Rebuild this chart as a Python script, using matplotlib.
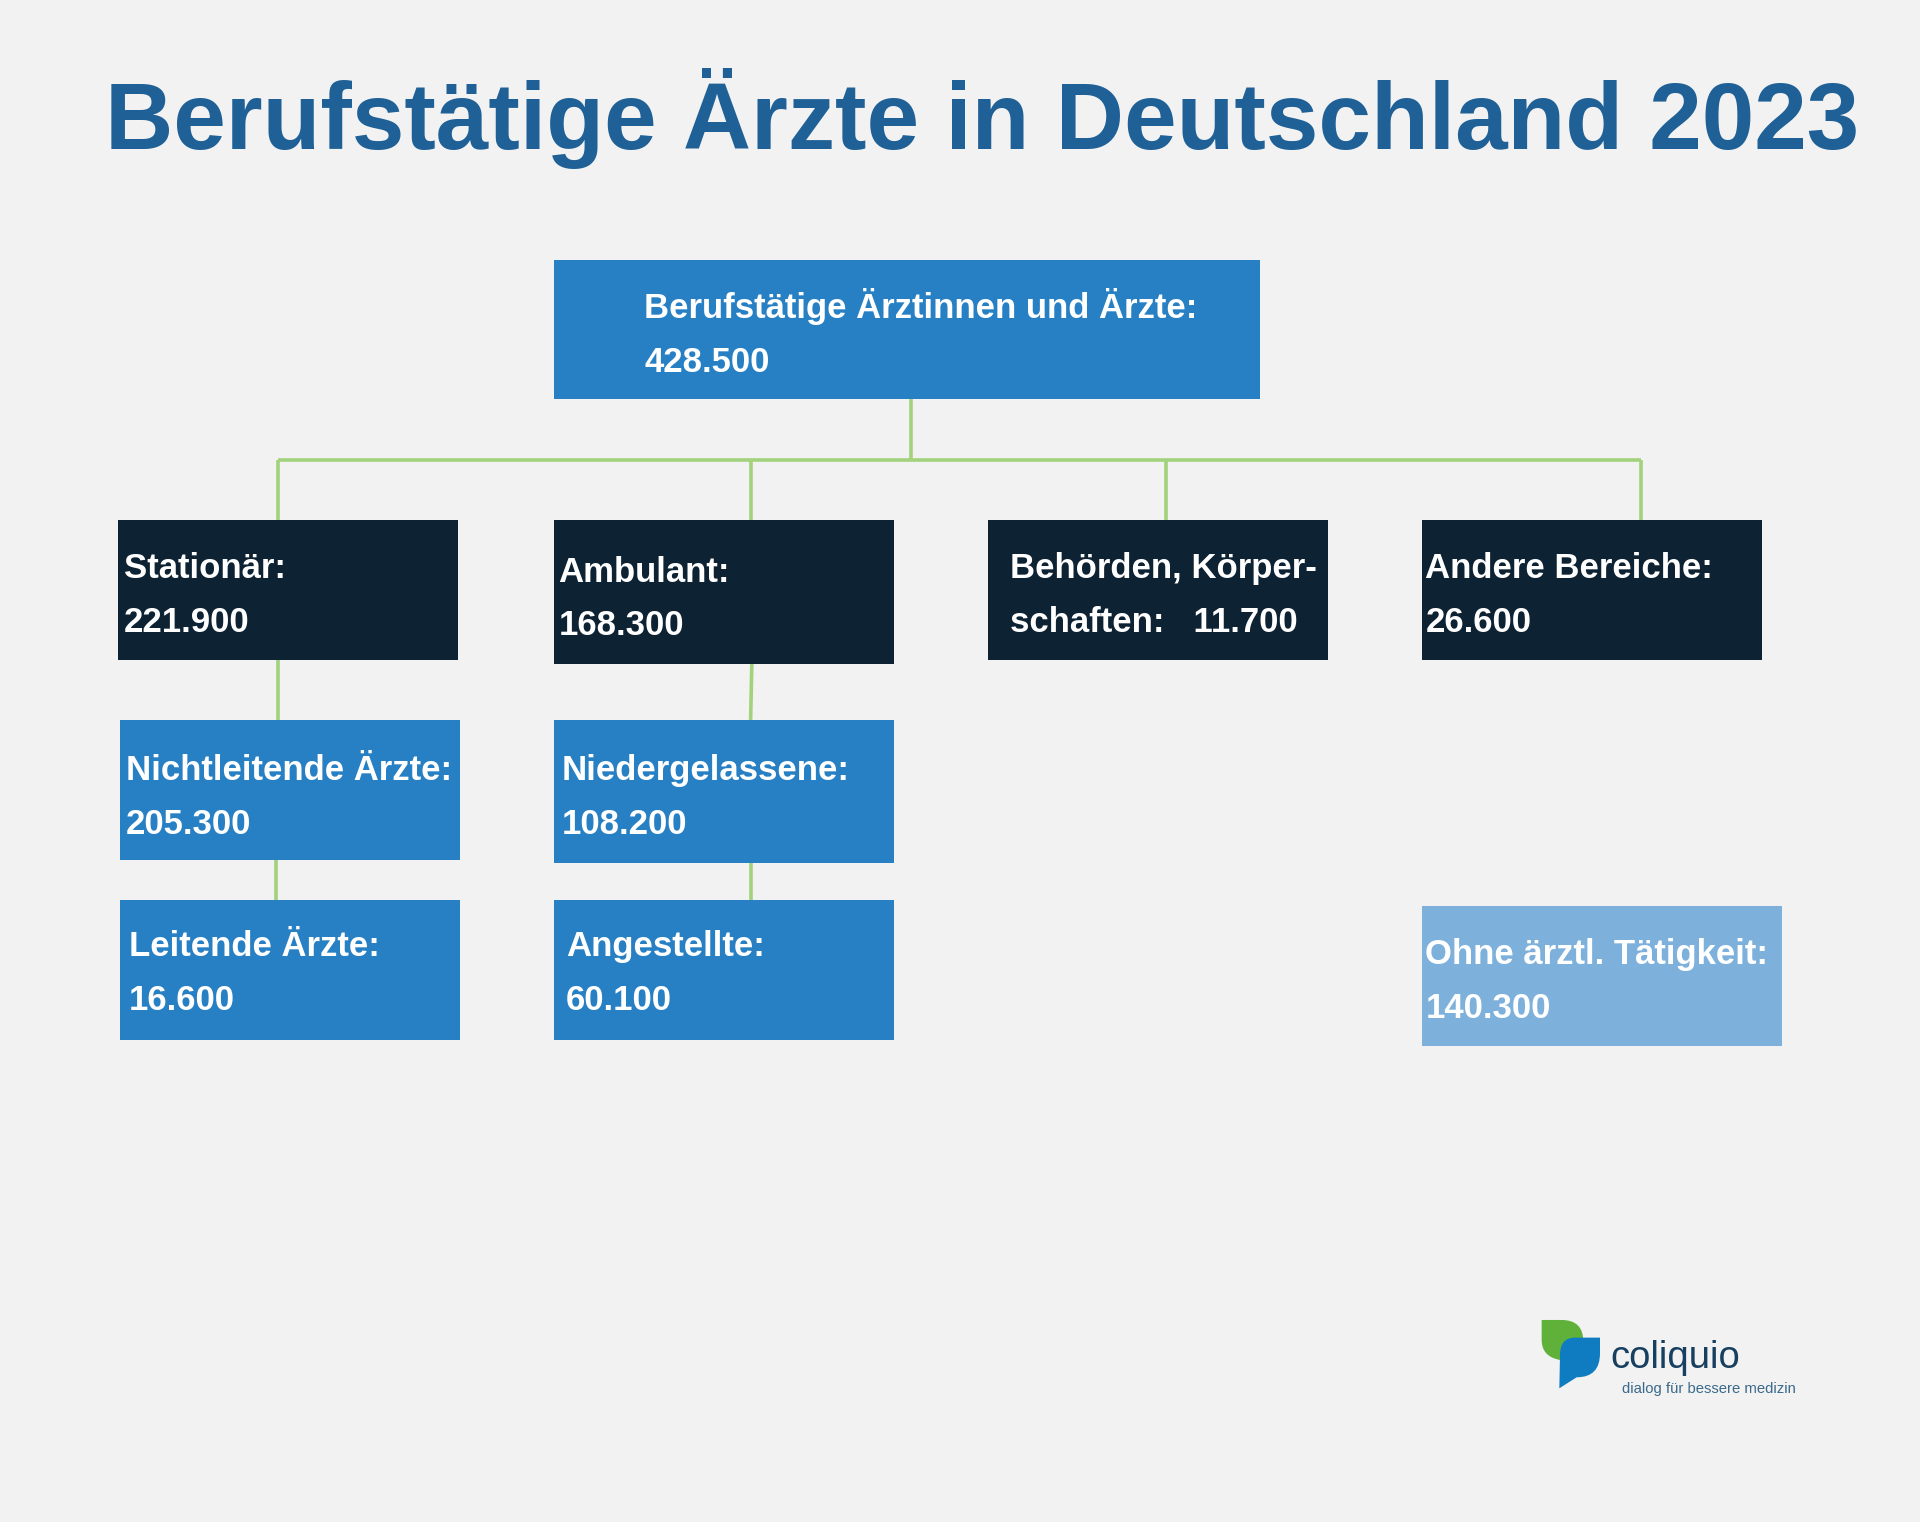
import matplotlib
matplotlib.use("Agg")
import matplotlib.pyplot as plt
from matplotlib.patches import Rectangle, PathPatch
from matplotlib.path import Path

W, H = 1920, 1522
S = 1920 / 1568

TITLE = "Berufstätige Ärzte in Deutschland 2023"
box_labels = ["Berufstätige Ärztinnen und Ärzte:\n428.500", "Stationär:\n221.900", "Ambulant:\n168.300",
              "Behörden, Körper-\nschaften:   11.700", "Andere Bereiche:\n26.600",
              "Nichtleitende Ärzte:\n205.300", "Niedergelassene:\n108.200",
              "Leitende Ärzte:\n16.600", "Angestellte:\n60.100", "Ohne ärztl. Tätigkeit:\n140.300"]
BLUE, DARK, LIGHT = "#2780c4", "#0d2233", "#7db1dc"
box_colors = [BLUE, DARK, DARK, DARK, DARK, BLUE, BLUE, BLUE, BLUE, LIGHT]
# x0, y0, x1, y1, text x, baseline y of first line (reference px at 1568 wide)
box_geom = [(452.5, 212, 1029, 326, 526, 260), (96, 425, 374, 539, 101, 472), (452.5, 425, 730, 542, 456, 475),
            (807, 425, 1084.5, 539, 825, 472), (1161, 425, 1439, 539, 1164, 472), (98, 588, 376, 702, 103, 637),
            (452.5, 588, 730, 705, 459, 637), (98, 735, 376, 849, 105, 781), (452.5, 735, 730, 849, 462, 781),
            (1161, 740, 1455, 854, 1164, 787)]
connectors = [((744, 326), (744, 376)), ((227, 376), (1340, 376)), ((227, 376), (227, 425)),
              ((613, 376), (613, 425)), ((952, 376), (952, 425)), ((1340, 376), (1340, 425)),
              ((227, 539), (227, 588)), ((614, 542), (613, 588)), ((225, 702), (225, 735)),
              ((613, 705), (613, 735))]

plt.rcParams["font.family"] = ["Liberation Sans", "DejaVu Sans"]
fig = plt.figure(figsize=(W / 100, H / 100), dpi=100, facecolor="#f2f2f2")
ax = fig.add_axes([0, 0, 1, 1])
ax.set_xlim(0, 1568)
ax.set_ylim(1243, 0)
ax.axis("off")

ax.text(802, 97, TITLE, ha="center", va="center", fontsize=68, fontweight="bold", color="#1f6096")
for a, b in connectors:
    ax.plot([a[0], b[0]], [a[1], b[1]], color="#a2d27c", lw=2.6, solid_capstyle="butt", zorder=1)
for (x0, y0, x1, y1, tx, ty), lab, c in zip(box_geom, box_labels, box_colors):
    ax.add_patch(Rectangle((x0, y0), x1 - x0, y1 - y0, fc=c, ec="none", zorder=2))
    l1, l2 = lab.split("\n")
    ax.text(tx, ty, l1, color="white", fontsize=25, fontweight="bold", va="baseline", zorder=3)
    ax.text(tx, ty + 44, l2, color="white", fontsize=25, fontweight="bold", va="baseline", zorder=3)


def logo_pt(p):
    return ((1520 + p[0] / 3) / S, (1300 + p[1] / 3) / S)


M, L, C, Z = Path.MOVETO, Path.LINETO, Path.CURVE3, Path.CLOSEPOLY
green = [(65, 60), (125, 60), (190, 60), (190, 125), (120, 180), (65, 170), (65, 120), (65, 60)]
green_c = [M, L, C, C, L, C, C, Z]
blue = [(240, 113), (165, 113), (120, 113), (120, 165), (118, 265), (170, 232), (240, 232), (240, 160), (240, 113)]
blue_c = [M, L, C, C, L, L, C, C, Z]
ax.add_patch(PathPatch(Path([logo_pt(p) for p in green], green_c), fc="#5fb13a", ec="none", zorder=4))
ax.add_patch(PathPatch(Path([logo_pt(p) for p in blue], blue_c), fc="#0f7cc1", ec="none", zorder=5))
ax.text(1315, 1117, "coliquio", fontsize=27.5, color="#173f5f", va="baseline", zorder=5,
        path_effects=[])
ax.text(1325, 1138, "dialog für bessere medizin", fontsize=10.7, color="#3b6a8a", va="baseline", zorder=5)

fig.savefig("out.png", dpi=100, facecolor=fig.get_facecolor())
